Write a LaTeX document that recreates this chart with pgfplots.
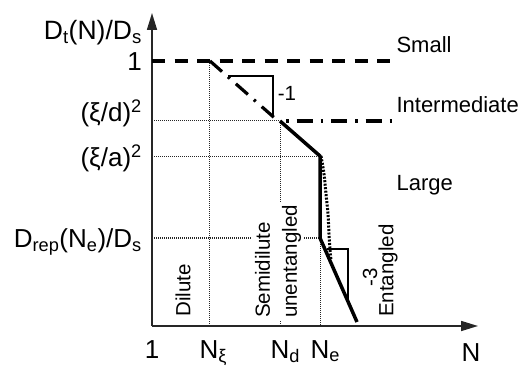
\documentclass[border=0pt]{standalone}
\usepackage{pgfplots}
\pgfplotsset{compat=1.18}
\usepackage{fontspec}
\setmainfont{Liberation Sans}
\usetikzlibrary{arrows.meta}

\newcommand\fA{\fontsize{26}{30}\selectfont}
\newcommand\fT{\fontsize{26.5}{30}\selectfont}
\newcommand\fB{\fontsize{22}{27}\selectfont}
\newcommand\fC{\fontsize{20.5}{27}\selectfont}

\begin{document}
\begin{tikzpicture}[x=1pt,y=1pt]
\path[use as bounding box] (0,0) rectangle (518,369);
\begin{axis}[
    at={(152pt,43pt)}, anchor=south west,
    x=1pt, y=1pt,
    xmin=0, xmax=326, ymin=0, ymax=313,
    enlargelimits=false,
    axis lines=left,
    axis line style={line width=1.6pt, black!85, -{Triangle[length=17pt,width=10pt]}},
    clip=false,
    no markers,
    xtick={0,57,128,168},
    xticklabels={1, N\rlap{\textsubscript{ξ}}, N\rlap{\textsubscript{d}}, N\rlap{\textsubscript{e}}},
    ytick={88,169,205,265},
    yticklabels={D\textsubscript{rep}(N\textsubscript{e})/D\textsubscript{s}, (ξ/a)\textsuperscript{2}, \raisebox{9pt}{(ξ/d)\textsuperscript{2}}, 1},
    major tick length=0pt,
    tick label style={font=\fA},
    xticklabel style={anchor=north, inner sep=0pt, yshift=-14pt},
    yticklabel style={anchor=base east, inner sep=0pt, xshift=-10pt, yshift=-10pt},
    guide/.style={line width=1pt, black!85, dash pattern=on 1pt off 1pt},
    thickdash/.style={line width=3.2pt, dash pattern=on 13pt off 9.5pt},
    dashdot/.style={line width=3.2pt, dash pattern=on 16pt off 8pt on 2.5pt off 8pt},
  ]
  % thin dotted guides
  \addplot[guide] coordinates {(57,265) (57,0)};
  \addplot[guide] coordinates {(128,205) (128,0)};
  \addplot[guide] coordinates {(168,88) (168,0)};
  \addplot[guide] coordinates {(0,205) (128,205)};
  \addplot[guide] coordinates {(0,169) (168,169)};
  \addplot[guide] coordinates {(0,88) (168,88)};

  % regimes
  \addplot[thickdash] coordinates {(0,265) (246,265)};
  \addplot[dashdot] coordinates {(58,265) (126,205)};
  \addplot[dashdot, dash phase=20pt] coordinates {(130,205) (246,205)};
  \addplot[line width=3.5pt, line join=round] coordinates {(128,205) (168,170) (168,88) (205,4)};
  \addplot[line width=3pt, dash pattern=on 2pt off 1.5pt, smooth]
    coordinates {(169,170) (172,152) (174,132) (176,112) (177,92) (178,76) (179,66)};

  % slope triangles
  \addplot[line width=1.2pt] coordinates {(76,250) (121,250) (121,211)};
  \addplot[line width=1.2pt] coordinates {(175,77) (196,77) (196,26)};

  \node[font=\fC] at (135,233) {-1};
  \node[font=\fC, rotate=90] at (218,49) {-3};

  \node[font=\fB, anchor=west] at (241,281) {Small};
  \node[font=\fB, anchor=west] at (241,221) {Intermediate};
  \node[font=\fB, anchor=west] at (241,141) {Large};

  \node[font=\fC, rotate=90, anchor=west, inner sep=1pt] at (31,8) {Dilute};
  \node[font=\fC, rotate=90, anchor=west, align=left, fill=white, inner sep=3pt] at (126,5) {Semidilute\\unentangled};
  \node[font=\fC, rotate=90, anchor=west, inner sep=1pt] at (236,8) {Entangled};

  \node[font=\fT, anchor=base east, inner sep=0pt] at (-10,286) {D\textsubscript{t}(N)/D\textsubscript{s}};
  \node[font=\fA] at (319,-27) {N};
\end{axis}
\end{tikzpicture}
\end{document}
